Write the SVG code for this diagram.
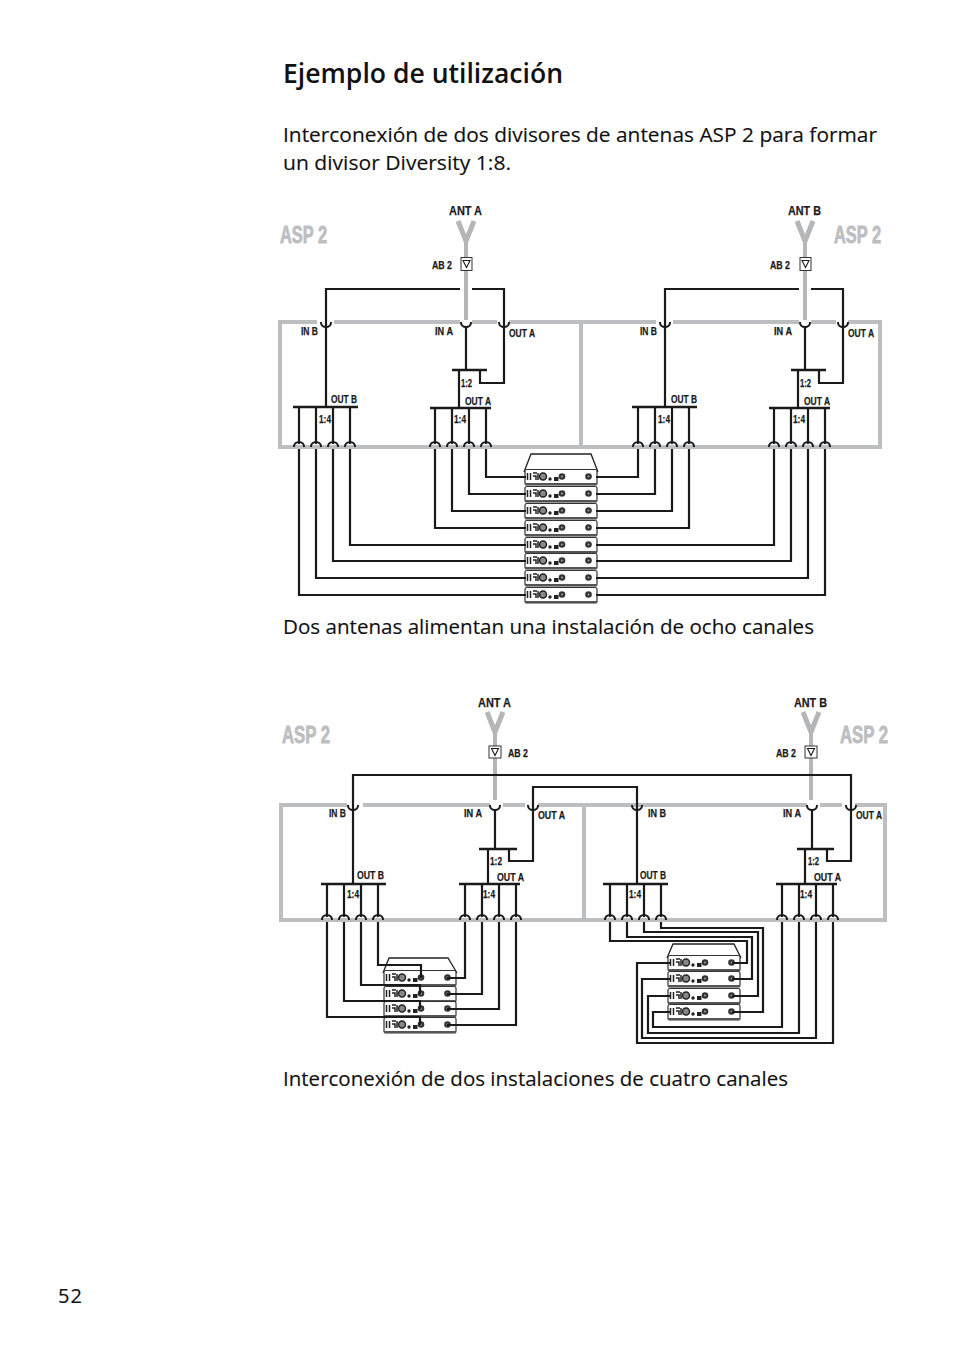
<svg xmlns="http://www.w3.org/2000/svg" width="954" height="1355" viewBox="0 0 954 1355">
<style>
.t{font-family:"Open Sans","Liberation Sans",sans-serif;fill:#111;font-size:20px;stroke:#111;stroke-width:0.15px}
.h{font-size:27px;font-weight:600;stroke-width:0}
.l{font-family:"Liberation Sans",Arial,sans-serif;font-weight:700;font-size:11px;fill:#1a1a1a;stroke:#1a1a1a;stroke-width:0.25px}
.n{font-size:13.500px}
.a{font-family:"Liberation Sans",Arial,sans-serif;font-weight:700;font-size:23px;fill:#bcbec0;stroke:#bcbec0;stroke-width:0.8px}
.w{fill:none;stroke:#1a1a1a;stroke-width:2.2}
.b{fill:none;stroke:#1a1a1a;stroke-width:2.6}
.g{fill:none;stroke:#bcbec0;stroke-width:4}
.an{fill:none;stroke:#b4b6b8;stroke-width:4}
.fk{fill:none;stroke:#b4b6b8;stroke-width:5}
.s{fill:none;stroke:#1a1a1a;stroke-width:2}
</style>
<defs>
<g id="row">
<path d="M1 -6Q1 -7.500 3 -7.500H71Q73 -7.500 73 -6V6Q73 8 71 8H3Q1 8 1 6Z" fill="#fff" stroke="#333" stroke-width="1.2"/>
<path d="M1 7H73" stroke="#555" stroke-width="2.2" fill="none"/>
<path d="M3.500 -4V3M6.500 -4V3M9 -4H13M9 -1H12V3M14 -4V3" stroke="#222" stroke-width="1.5" fill="none"/>
<circle cx="19" cy="-0.500" r="3.500" fill="#888" stroke="#222" stroke-width="1.500"/>
<circle cx="26" cy="2" r="1.700" fill="#222"/>
<rect x="30" y="0" width="4.500" height="4" fill="#222"/>
<circle cx="38" cy="-0.500" r="3.300" fill="#333"/>
<circle cx="38" cy="-0.500" r="1.100" fill="#999"/>
<circle cx="64.500" cy="-0.500" r="3.300" fill="#333"/>
<circle cx="64.500" cy="-0.500" r="1.100" fill="#999"/>
</g>
<path id="cap" d="M-5 4V3.500A5 4.500 0 0 1 5 3.500V4" class="s"/>
<path id="cup" d="M-5 -4V-3.500A5 4.500 0 0 0 5 -3.500V-4" class="s"/>
<path id="tri" d="M-3.500 -3.500H3.500L0 3.500Z" fill="none" stroke="#1a1a1a" stroke-width="1.100"/>
</defs>

<text class="t h" x="283" y="83" textLength="280" lengthAdjust="spacingAndGlyphs">Ejemplo de utilización</text>
<text class="t" x="283" y="142" textLength="594" lengthAdjust="spacingAndGlyphs">Interconexión de dos divisores de antenas ASP 2 para formar</text>
<text class="t" x="283" y="170" textLength="228" lengthAdjust="spacingAndGlyphs">un divisor Diversity 1:8.</text>
<text class="t" x="283" y="634" textLength="531" lengthAdjust="spacingAndGlyphs">Dos antenas alimentan una instalación de ocho canales</text>
<text class="t" x="283" y="1086" textLength="505" lengthAdjust="spacingAndGlyphs">Interconexión de dos instalaciones de cuatro canales</text>
<text class="t" x="58" y="1303" textLength="24" lengthAdjust="spacing">52</text>

<g id="unit-top-1">
<path class="g" d="M317 322H280V447H581M334 322H460M472 322H497M509 322H581V447"/>
<text class="a" x="280" y="243" textLength="47" lengthAdjust="spacingAndGlyphs">ASP 2</text>
<text class="l" x="301" y="335" textLength="17" lengthAdjust="spacingAndGlyphs">IN B</text>
<text class="l" x="435" y="335" textLength="18" lengthAdjust="spacingAndGlyphs">IN A</text>
<text class="l" x="509" y="337" textLength="26" lengthAdjust="spacingAndGlyphs">OUT A</text>
<text class="l" x="331" y="403" textLength="26" lengthAdjust="spacingAndGlyphs">OUT B</text>
<text class="l" x="465" y="405" textLength="26" lengthAdjust="spacingAndGlyphs">OUT A</text>
<text class="l" x="461" y="387" textLength="11" lengthAdjust="spacingAndGlyphs">1:2</text>
<text class="l" x="319" y="423" textLength="12" lengthAdjust="spacingAndGlyphs">1:4</text>
<text class="l" x="454" y="423" textLength="12" lengthAdjust="spacingAndGlyphs">1:4</text>
<path class="b" d="M293 407H358M430 408H491M452 370H487"/>
<path class="w" d="M326 326V407M299 407V444M316 407V444M333 407V444M350 407V444M466 326V370M459 370V408M480 370V383H504V326M435 408V444M452 408V444M469 408V444M486 408V444"/>
<use href="#cup" x="326" y="326"/><use href="#cup" x="466" y="326"/><use href="#cup" x="504" y="326"/>
<use href="#cap" x="299" y="443"/><use href="#cap" x="316" y="443"/><use href="#cap" x="333" y="443"/><use href="#cap" x="350" y="443"/>
<use href="#cap" x="435" y="443"/><use href="#cap" x="452" y="443"/><use href="#cap" x="469" y="443"/><use href="#cap" x="486" y="443"/>
</g>

<g id="unit-top-2">
<path class="g" d="M581 322H656M673 322H799M811 322H836M848 322H880V447H581"/>
<text class="a" x="834" y="243" textLength="47" lengthAdjust="spacingAndGlyphs">ASP 2</text>
<text class="l" x="640" y="335" textLength="17" lengthAdjust="spacingAndGlyphs">IN B</text>
<text class="l" x="774" y="335" textLength="18" lengthAdjust="spacingAndGlyphs">IN A</text>
<text class="l" x="848" y="337" textLength="26" lengthAdjust="spacingAndGlyphs">OUT A</text>
<text class="l" x="671" y="403" textLength="26" lengthAdjust="spacingAndGlyphs">OUT B</text>
<text class="l" x="804" y="405" textLength="26" lengthAdjust="spacingAndGlyphs">OUT A</text>
<text class="l" x="800" y="387" textLength="11" lengthAdjust="spacingAndGlyphs">1:2</text>
<text class="l" x="658" y="423" textLength="12" lengthAdjust="spacingAndGlyphs">1:4</text>
<text class="l" x="793" y="423" textLength="12" lengthAdjust="spacingAndGlyphs">1:4</text>
<path class="b" d="M632 407H697M769 408H830M791 370H826"/>
<path class="w" d="M665 326V407M638 407V444M655 407V444M672 407V444M689 407V444M805 326V370M798 370V408M819 370V383H843V326M774 408V444M791 408V444M808 408V444M825 408V444"/>
<use href="#cup" x="665" y="326"/><use href="#cup" x="805" y="326"/><use href="#cup" x="843" y="326"/>
<use href="#cap" x="638" y="443"/><use href="#cap" x="655" y="443"/><use href="#cap" x="672" y="443"/><use href="#cap" x="689" y="443"/>
<use href="#cap" x="774" y="443"/><use href="#cap" x="791" y="443"/><use href="#cap" x="808" y="443"/><use href="#cap" x="825" y="443"/>
</g>

<g id="antenna-top-a">
<text class="l n" x="449" y="215" textLength="33" lengthAdjust="spacingAndGlyphs">ANT A</text>
<path class="fk" d="M458 221L466 241L474 221"/>
<path class="an" d="M466 240V320"/>
<rect x="461" y="257.500" width="11" height="13" fill="#fff" stroke="#333" stroke-width="1"/>
<use href="#tri" x="466.500" y="264"/>
<text class="l" x="432" y="269" textLength="20" lengthAdjust="spacingAndGlyphs">AB 2</text>
</g>
<g id="antenna-top-b">
<text class="l n" x="788" y="215" textLength="33" lengthAdjust="spacingAndGlyphs">ANT B</text>
<path class="fk" d="M797 221L805 241L813 221"/>
<path class="an" d="M805 240V320"/>
<rect x="800" y="257.500" width="11" height="13" fill="#fff" stroke="#333" stroke-width="1"/>
<use href="#tri" x="805.500" y="264"/>
<text class="l" x="770" y="269" textLength="20" lengthAdjust="spacingAndGlyphs">AB 2</text>
</g>

<g id="receivers-top">
<path d="M524 472L531 454H591L598 472" fill="#fff" stroke="#222" stroke-width="1.3"/>
<use href="#row" x="524" y="477"/><use href="#row" x="524" y="494"/><use href="#row" x="524" y="511"/><use href="#row" x="524" y="528"/>
<use href="#row" x="524" y="545"/><use href="#row" x="524" y="561"/><use href="#row" x="524" y="578"/><use href="#row" x="524" y="595"/>
</g>

<g id="connectors-top">
<path class="w" d="M326 326V289H460M472 289H504V326"/>
<path class="w" d="M665 326V289H799M811 289H843V326"/>
<path class="w" d="M486 449V477H526M469 449V494H526M452 449V511H526M435 449V528H526M350 449V545H526M333 449V561H526M316 449V578H526M299 449V595H526"/>
<path class="w" d="M638 449V477H596M655 449V494H596M672 449V511H596M689 449V528H596M774 449V545H596M791 449V561H596M808 449V578H596M825 449V595H596"/>
</g>

<g id="unit-bottom-1">
<path class="g" d="M347 805H281V920H584M363 805H490M503 805H525M538 805H584V920"/>
<text class="a" x="282" y="743" textLength="48" lengthAdjust="spacingAndGlyphs">ASP 2</text>
<text class="l" x="329" y="817" textLength="17" lengthAdjust="spacingAndGlyphs">IN B</text>
<text class="l" x="464" y="817" textLength="18" lengthAdjust="spacingAndGlyphs">IN A</text>
<text class="l" x="538" y="819" textLength="27" lengthAdjust="spacingAndGlyphs">OUT A</text>
<text class="l" x="357" y="879" textLength="27" lengthAdjust="spacingAndGlyphs">OUT B</text>
<text class="l" x="497" y="881" textLength="27" lengthAdjust="spacingAndGlyphs">OUT A</text>
<text class="l" x="490" y="865" textLength="12" lengthAdjust="spacingAndGlyphs">1:2</text>
<text class="l" x="347" y="898" textLength="12" lengthAdjust="spacingAndGlyphs">1:4</text>
<text class="l" x="483" y="898" textLength="12" lengthAdjust="spacingAndGlyphs">1:4</text>
<path class="b" d="M321 884H386M459 884H520M479 849H517"/>
<path class="w" d="M353 809V884M327 884V917M344 884V917M361 884V917M378 884V917M495 809V849M488 849V884M509 849V861H533V809M465 884V917M482 884V917M499 884V917M516 884V917"/>
<use href="#cup" x="353" y="809"/><use href="#cup" x="495" y="809"/><use href="#cup" x="533" y="809"/>
<use href="#cap" x="327" y="916"/><use href="#cap" x="344" y="916"/><use href="#cap" x="361" y="916"/><use href="#cap" x="378" y="916"/>
<use href="#cap" x="465" y="916"/><use href="#cap" x="482" y="916"/><use href="#cap" x="499" y="916"/><use href="#cap" x="516" y="916"/>
</g>

<g id="unit-bottom-2">
<path class="g" d="M584 805H807M820 805H842M855 805H885V920H584"/>
<text class="a" x="840" y="743" textLength="48" lengthAdjust="spacingAndGlyphs">ASP 2</text>
<text class="l" x="648" y="817" textLength="18" lengthAdjust="spacingAndGlyphs">IN B</text>
<text class="l" x="783" y="817" textLength="18" lengthAdjust="spacingAndGlyphs">IN A</text>
<text class="l" x="856" y="819" textLength="26" lengthAdjust="spacingAndGlyphs">OUT A</text>
<text class="l" x="640" y="879" textLength="26" lengthAdjust="spacingAndGlyphs">OUT B</text>
<text class="l" x="814" y="881" textLength="27" lengthAdjust="spacingAndGlyphs">OUT A</text>
<text class="l" x="808" y="865" textLength="11" lengthAdjust="spacingAndGlyphs">1:2</text>
<text class="l" x="629" y="898" textLength="12" lengthAdjust="spacingAndGlyphs">1:4</text>
<text class="l" x="800" y="898" textLength="12" lengthAdjust="spacingAndGlyphs">1:4</text>
<path class="b" d="M603 884H668M776 884H837M797 849H834"/>
<path class="w" d="M637 809V884M610 884V917M627 884V917M644 884V917M661 884V917M812 809V849M805 849V884M827 849V861H851V809M782 884V917M799 884V917M816 884V917M833 884V917"/>
<use href="#cup" x="637" y="809"/><use href="#cup" x="812" y="809"/><use href="#cup" x="851" y="809"/>
<use href="#cap" x="610" y="916"/><use href="#cap" x="627" y="916"/><use href="#cap" x="644" y="916"/><use href="#cap" x="661" y="916"/>
<use href="#cap" x="782" y="916"/><use href="#cap" x="799" y="916"/><use href="#cap" x="816" y="916"/><use href="#cap" x="833" y="916"/>
</g>

<g id="antenna-bottom-a">
<text class="l n" x="478" y="707" textLength="33" lengthAdjust="spacingAndGlyphs">ANT A</text>
<path class="fk" d="M487 712L495 732L503 712"/>
<path class="an" d="M495 731V800"/>
<rect x="489" y="746" width="12" height="12" fill="#fff" stroke="#333" stroke-width="1"/>
<use href="#tri" x="495" y="752"/>
<text class="l" x="508" y="757" textLength="20" lengthAdjust="spacingAndGlyphs">AB 2</text>
</g>
<g id="antenna-bottom-b">
<text class="l n" x="794" y="707" textLength="33" lengthAdjust="spacingAndGlyphs">ANT B</text>
<path class="fk" d="M803 712L811 732L819 712"/>
<path class="an" d="M811 731V800"/>
<rect x="805" y="746" width="12" height="12" fill="#fff" stroke="#333" stroke-width="1"/>
<use href="#tri" x="811" y="752"/>
<text class="l" x="776" y="757" textLength="20" lengthAdjust="spacingAndGlyphs">AB 2</text>
</g>

<g id="receivers-bottom-1">
<path d="M383 973L389 958H448L457 973" fill="#fff" stroke="#222" stroke-width="1.3"/>
<use href="#row" x="383" y="978"/><use href="#row" x="383" y="994"/><use href="#row" x="383" y="1009"/><use href="#row" x="383" y="1025"/>
</g>
<g id="receivers-bottom-2">
<path d="M667 958L673 944H734L741 958" fill="#fff" stroke="#222" stroke-width="1.3"/>
<use href="#row" x="667" y="963"/><use href="#row" x="667" y="979"/><use href="#row" x="667" y="996"/><use href="#row" x="667" y="1012"/>
</g>

<g id="connectors-bottom">
<path class="w" d="M353 809V775H851V809M533 809V787H637V809"/>
<path class="w" d="M378 922V965H421V978M361 922V985H420V994M344 922V1001H420V1009M327 922V1017H420V1025"/>
<path class="w" d="M465 922V978H447M482 922V994H447M499 922V1009H447M516 922V1025H447"/>
<path class="w" d="M661 922V928H763V1012H732M644 922V932H758V996H732M627 922V937H752V979H732M610 922V941H747V963H732"/>
<path class="w" d="M782 922V1027H653V1012H670M799 922V1033H648V996H670M816 922V1038H642V979H670M833 922V1043H637V963H670"/>
</g>
</svg>
